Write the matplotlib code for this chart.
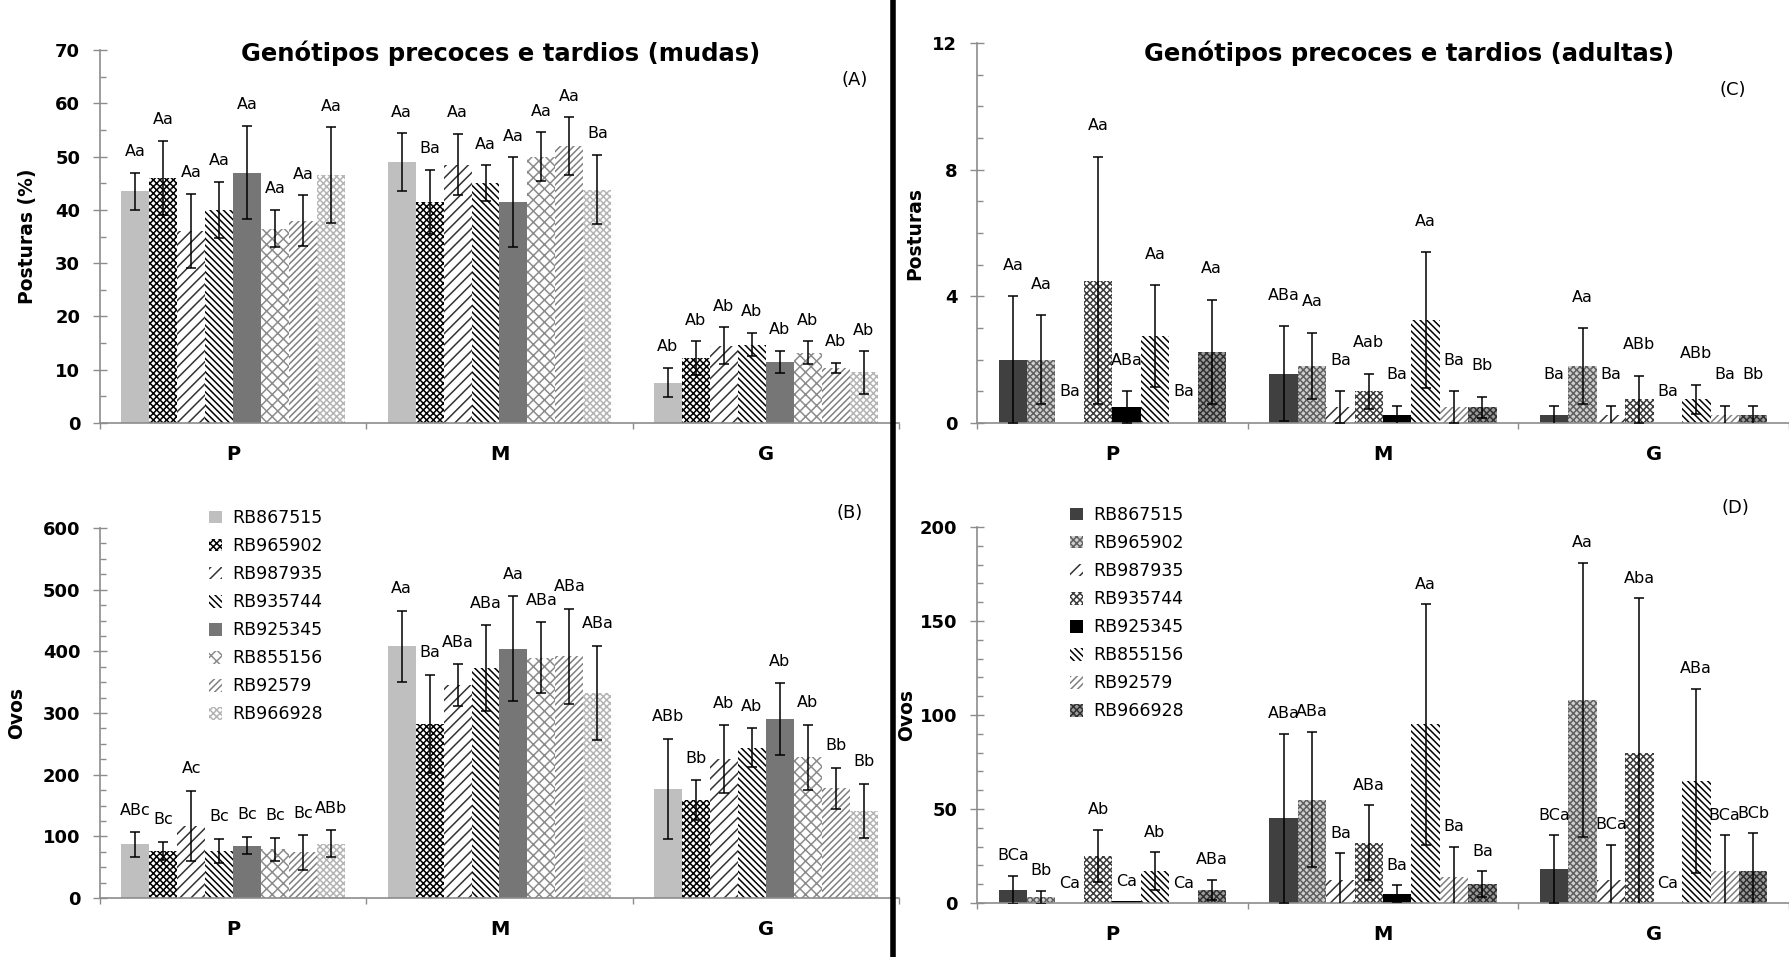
import numpy as np
import matplotlib
matplotlib.use("Agg")
import matplotlib.pyplot as plt
from matplotlib.ticker import MultipleLocator, FixedLocator, NullFormatter

plt.rcParams['font.family'] = ['DejaVu Sans']
plt.rcParams['hatch.linewidth'] = 1.1

genotypes = ["RB867515", "RB965902", "RB987935", "RB935744",
             "RB925345", "RB855156", "RB92579", "RB966928"]
sizes = ["P", "M", "G"]

# ---- (A) mudas, posturas (%)  rows: P, M, G
mudas_post = [[43.5, 46.0, 36.0, 40.0, 47.0, 36.5, 38.0, 46.5],
              [49.0, 41.5, 48.5, 45.0, 41.5, 50.0, 52.0, 43.8],
              [7.6, 12.2, 14.5, 14.7, 11.5, 13.2, 10.3, 9.5]]
mudas_post_err = [[3.5, 7.0, 7.0, 5.3, 8.8, 3.5, 4.7, 9.0],
                  [5.4, 6.0, 5.8, 3.4, 8.4, 4.6, 5.4, 6.5],
                  [2.8, 3.1, 3.5, 2.2, 2.1, 2.1, 1.0, 4.0]]
mudas_post_lbl = [["Aa"] * 8,
                  ["Aa", "Ba", "Aa", "Aa", "Aa", "Aa", "Aa", "Ba"],
                  ["Ab"] * 8]

# ---- (B) mudas, ovos
mudas_ovos = [[87, 76, 117, 76, 85, 79, 74, 88],
              [408, 282, 345, 373, 404, 390, 392, 333],
              [177, 159, 225, 244, 290, 228, 178, 141]]
mudas_ovos_err = [[20, 15, 57, 20, 14, 19, 28, 22],
                  [58, 80, 34, 69, 85, 57, 77, 76],
                  [81, 32, 55, 31, 58, 53, 33, 44]]
mudas_ovos_lbl = [["ABc", "Bc", "Ac", "Bc", "Bc", "Bc", "Bc", "ABb"],
                  ["Aa", "Ba", "ABa", "ABa", "Aa", "ABa", "ABa", "ABa"],
                  ["ABb", "Bb", "Ab", "Ab", "Ab", "Ab", "Bb", "Bb"]]

# ---- (C) adultas, posturas
adultas_post = [[2.0, 2.0, 0.0, 4.5, 0.5, 2.75, 0.0, 2.25],
                [1.55, 1.8, 0.5, 1.0, 0.25, 3.25, 0.5, 0.5],
                [0.25, 1.8, 0.25, 0.75, 0.0, 0.75, 0.25, 0.25]]
adultas_post_err = [[2.0, 1.4, 0.0, 3.9, 0.5, 1.6, 0.0, 1.65],
                    [1.5, 1.05, 0.5, 0.55, 0.3, 2.15, 0.5, 0.33],
                    [0.3, 1.2, 0.3, 0.75, 0.0, 0.45, 0.3, 0.3]]
adultas_post_lbl = [["Aa", "Aa", "Ba", "Aa", "ABa", "Aa", "Ba", "Aa"],
                    ["ABa", "Aa", "Ba", "Aab", "Ba", "Aa", "Ba", "Bb"],
                    ["Ba", "Aa", "Ba", "ABb", "Ba", "ABb", "Ba", "Bb"]]

# ---- (D) adultas, ovos
adultas_ovos = [[7, 3, 0, 25, 1, 17, 0, 7],
                [45, 55, 12.5, 32, 5, 95, 14, 10],
                [18, 108, 12, 80, 0, 65, 17, 17]]
adultas_ovos_err = [[7.5, 3.5, 0, 14, 0, 10, 0, 5.5],
                    [45, 36, 14, 20, 4.5, 64, 16, 7],
                    [18, 73, 19, 82, 0, 49, 19, 20]]
adultas_ovos_lbl = [["BCa", "Bb", "Ca", "Ab", "Ca", "Ab", "Ca", "ABa"],
                    ["ABa", "ABa", "Ba", "ABa", "Ba", "Aa", "Ba", "Ba"],
                    ["BCa", "Aa", "BCa", "Aba", "Ca", "ABa", "BCa", "BCb"]]

# fill, hatch, hatch colour
sty_mudas = [("#bfbfbf", None, "#bfbfbf"), ("white", "xxxxx", "black"),
             ("white", "///", "#333333"), ("white", "\\\\\\\\\\", "black"),
             ("#767676", None, "#767676"), ("white", "xxx", "#8c8c8c"),
             ("white", "/////", "#808080"), ("white", "xxxxx", "#b4b4b4")]
sty_adultas = [("#404040", None, "#404040"), ("#d0d0d0", "xxxxx", "#606060"),
               ("white", "///", "#333333"), ("white", "xxxxx", "#3a3a3a"),
               ("black", None, "black"), ("white", "\\\\\\\\\\", "black"),
               ("white", "/////", "#808080"), ("#9a9a9a", "xxxxx", "#303030")]

GRAY = "#8c8c8c"
W, H = 1789, 957
fig = plt.figure(figsize=(W / 100, H / 100), dpi=100)


def panel(rect, means, errs, labels, styles, ymax, major, minor, lab_off, ylabel, ylab_x):
    ax = fig.add_axes(rect)
    means = np.array(means, float); errs = np.array(errs, float)
    bw = 0.105
    for j in range(8):
        x = np.arange(3) + 0.5 + (j - 3.5) * bw
        fc, hatch, hc = styles[j]
        ax.bar(x, means[:, j], bw, color=fc, hatch=hatch, edgecolor=hc,
               linewidth=0, label=genotypes[j], zorder=2)
        m = errs[:, j] > 0
        ax.errorbar(x[m], means[m, j], yerr=errs[m, j], fmt="none", ecolor="black",
                    elinewidth=1.1, capsize=3.6, capthick=1.1, zorder=3)
        for k in range(3):
            ax.annotate(labels[k][j], (x[k], means[k, j] + errs[k, j]), xytext=(0, lab_off),
                        textcoords="offset pixels", ha="center", va="center",
                        fontsize=11.5, annotation_clip=False)
    ax.set_xlim(0, 3); ax.set_ylim(0, ymax)
    for s in ("top", "right"):
        ax.spines[s].set_visible(False)
    for s in ("left", "bottom"):
        ax.spines[s].set_color(GRAY); ax.spines[s].set_linewidth(1.2)
    ax.xaxis.set_major_locator(FixedLocator([0, 1, 2, 3]))
    ax.xaxis.set_major_formatter(NullFormatter())
    ax.xaxis.set_minor_locator(FixedLocator([0.5, 1.5, 2.5]))
    ax.set_xticklabels(sizes, minor=True, fontweight="bold", fontsize=14)
    ax.tick_params(axis="x", which="major", direction="out", length=4.5, width=1, color=GRAY)
    ax.tick_params(axis="x", which="minor", length=0, pad=16)
    yt = np.arange(0, ymax + 1e-9, major)
    ax.set_yticks(yt)
    ax.set_yticklabels([f"{v:g}" for v in yt], fontweight="bold", fontsize=13)
    ax.yaxis.set_minor_locator(MultipleLocator(minor))
    ax.tick_params(axis="y", which="major", direction="inout", length=10.5, width=1,
                   color=GRAY, pad=9)
    ax.tick_params(axis="y", which="minor", direction="in", length=4, width=1, color=GRAY)
    ax.set_ylabel(ylabel, fontweight="bold", fontsize=13.5)
    ax.yaxis.set_label_coords(ylab_x, 0.5)
    return ax


axA = panel([100 / W, 1 - 423 / H, 799 / W, 373 / H], mudas_post, mudas_post_err, mudas_post_lbl,
            sty_mudas, 70, 10, 5, 21, "Posturas (%)", -0.079)
axB = panel([100 / W, 1 - 898 / H, 799 / W, 370 / H], mudas_ovos, mudas_ovos_err, mudas_ovos_lbl,
            sty_mudas, 600, 100, 25, 22, "Ovos", -0.093)
axC = panel([977 / W, 1 - 423 / H, 812 / W, 380 / H], adultas_post, adultas_post_err, adultas_post_lbl,
            sty_adultas, 12, 4, 1, 31, "Posturas", -0.065)
axD = panel([977 / W, 1 - 903 / H, 812 / W, 376 / H], adultas_ovos, adultas_ovos_err, adultas_ovos_lbl,
            sty_adultas, 200, 50, 10, 20, "Ovos", -0.075)

for ax, (lx, ly) in ((axB, (209 / W, 1 - 509 / H)), (axD, (1070 / W, 1 - 506 / H))):
    ax.legend(loc="upper left", bbox_to_anchor=(lx, ly), bbox_transform=fig.transFigure,
              frameon=False, fontsize=12.5, handlelength=0.75, handleheight=0.75,
              handletextpad=0.6, labelspacing=0.58, borderpad=0, borderaxespad=0)

fig.text(501 / W, 1 - 53 / H, "Genótipos precoces e tardios (mudas)", ha="center", va="center",
         fontsize=17.5, fontweight="bold")
fig.text(1409 / W, 1 - 53 / H, "Genótipos precoces e tardios (adultas)", ha="center", va="center",
         fontsize=17.5, fontweight="bold")
for txt, x, y in (("(A)", 855, 80), ("(B)", 850, 513), ("(C)", 1733, 90), ("(D)", 1735, 508)):
    fig.text(x / W, 1 - y / H, txt, ha="center", va="center", fontsize=13)

fig.add_artist(plt.Line2D([893 / W, 893 / W], [0, 1], color="black", linewidth=4,
                          transform=fig.transFigure))

fig.savefig("out.png", dpi=100)
